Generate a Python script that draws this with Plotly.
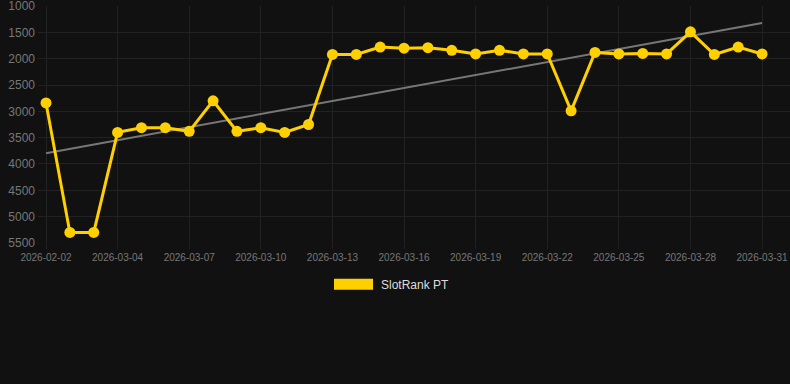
import numpy as np
import plotly.graph_objects as go

dates = ["2026-02-02", "2026-03-02", "2026-03-03"] + [f"2026-03-{d:02d}" for d in range(4, 32)]
ranks = [2840, 5300, 5300, 3400, 3310, 3310, 3380, 2800, 3380, 3310, 3400, 3250,
         1920, 1920, 1780, 1800, 1790, 1840, 1910, 1840, 1910, 1910, 2990, 1880,
         1910, 1900, 1910, 1490, 1920, 1780, 1910]
tick_labels = ["2026-02-02", "2026-03-04", "2026-03-07", "2026-03-10", "2026-03-13",
               "2026-03-16", "2026-03-19", "2026-03-22", "2026-03-25", "2026-03-28", "2026-03-31"]
y_ticks = [1000, 1500, 2000, 2500, 3000, 3500, 4000, 4500, 5000, 5500]
series_name = "SlotRank PT"

idx = np.arange(len(ranks))
slope, intercept = np.polyfit(idx, ranks, 1)
trend = slope * idx + intercept

GOLD = "#FFD000"
BG = "#111111"

fig = go.Figure()
fig.add_trace(go.Scatter(x=idx, y=trend, mode="lines",
                         line=dict(color="#777777", width=2),
                         showlegend=False, hoverinfo="skip"))
fig.add_trace(go.Scatter(x=idx, y=ranks, mode="lines+markers", name=series_name,
                         line=dict(color=GOLD, width=3),
                         marker=dict(color=GOLD, size=11),
                         showlegend=False, cliponaxis=False))

tickvals = [dates.index(t) for t in tick_labels]

W, H = 790, 384
left, right, top, bottom = 38, 790, 6, 243.3
fig.update_layout(
    width=W, height=H,
    paper_bgcolor=BG, plot_bgcolor=BG,
    margin=dict(l=left, r=W - right, t=top, b=H - bottom, pad=0),
    xaxis=dict(range=[-0.335, 31.17], tickvals=tickvals, ticktext=tick_labels,
               showgrid=True, gridcolor="#222222", gridwidth=1, zeroline=False,
               showline=False, ticks="outside", ticklen=5, tickcolor="#222222",
               ticklabeloverflow="allow",
               tickfont=dict(family="Liberation Sans, Arial", size=10, color="#777777")),
    yaxis=dict(range=[5501, 999], tickvals=y_ticks,
               showgrid=True, gridcolor="#222222", gridwidth=1, zeroline=False,
               showline=False, ticks="", ticklabelstandoff=2,
               ticklabeloverflow="allow",
               tickfont=dict(family="Liberation Sans, Arial", size=12, color="#777777")),
    showlegend=False,
    shapes=[dict(type="rect", xref="paper", yref="paper",
                 x0=(334 - left) / (right - left), x1=(373 - left) / (right - left),
                 y0=(bottom - 290) / (bottom - top), y1=(bottom - 279) / (bottom - top),
                 fillcolor=GOLD, line=dict(width=0))],
    annotations=[dict(text=series_name, xref="paper", yref="paper",
                      x=(379 - left) / (right - left), y=(bottom - 285) / (bottom - top),
                      xanchor="left", yanchor="middle", showarrow=False,
                      font=dict(family="Liberation Sans, Arial", size=12, color="#dddddd"))],
)

fig.write_html("out.html", config={"displayModeBar": False},
               post_script="document.body.style.margin='0';document.body.style.background='#111111';document.body.style.overflow='hidden';")
